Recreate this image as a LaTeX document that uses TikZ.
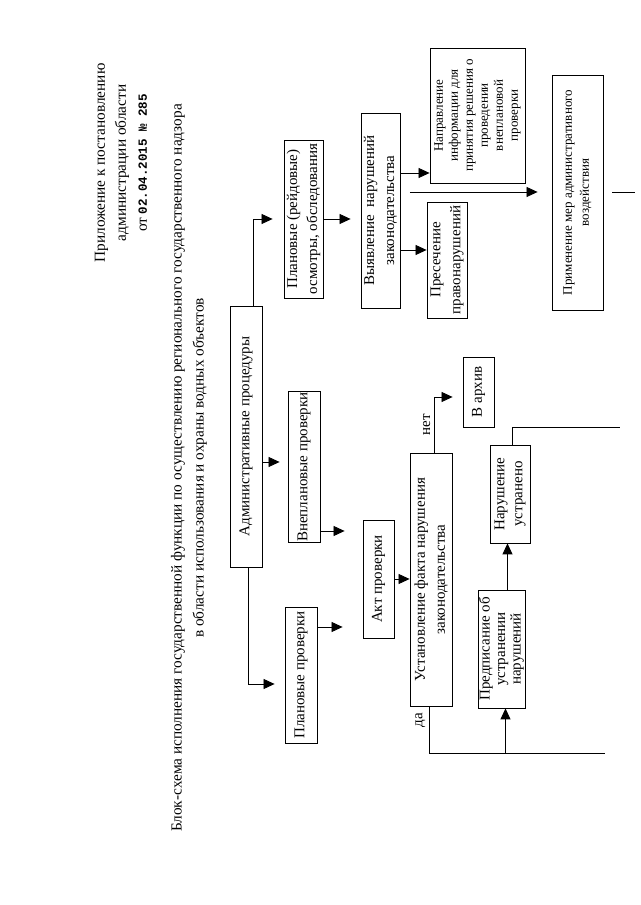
\documentclass[tikz,border=0pt]{standalone}
\usepackage{fontspec}
\setmainfont{Liberation Serif}
\newfontfamily\datefont{Liberation Mono}
\usetikzlibrary{calc,arrows.meta}

\tikzset{
	blok/.style={draw, line width=.8pt, align=center, inner sep=1pt, font=\fontsize{15}{20}\selectfont},
	arr/.style={line width=.8pt, -{Triangle[length=11pt,width=10pt]}},
	ln/.style={line width=.8pt}
}

\begin{document}
\begin{tikzpicture}[x=1pt, y=1pt]
\begin{scope}[rotate=90, transform shape]
\path[use as bounding box] (0,0) rectangle (905,640);

% header and title
\node[align=center, font=\fontsize{15.3}{21}\selectfont] (prilozh) at (742,519) {Приложение к постановлению\\администрации области\\от {\datefont\bfseries\fontsize{12.5}{21}\selectfont 02.04.2015 № 285}};
\node[align=center, font=\fontsize{15.3}{22}\selectfont] (zagolovok) at (437,451) {Блок-схема исполнения государственной функции по осуществлению регионального государственного надзора\\в области использования и охраны водных объектов};

% boxes
\node[blok, minimum width=261, minimum height=32] (adm) at (468.5,394) {Административные процедуры};
\node[blok, minimum width=158, minimum height=39] (rejd) at (686,336.5) {Плановые (рейдовые)\\осмотры, обследования};
\node[blok, minimum width=146, minimum height=32] (vnepl) at (438,336) {Внеплановые проверки};
\node[blok, minimum width=136, minimum height=32] (plan) at (230,339) {Плановые проверки};
\node[blok, minimum width=118, minimum height=31] (akt) at (326,261.5) {Акт проверки};
\node[blok, minimum width=253, minimum height=42] (fakt) at (325.5,209) {Установление факта нарушения\\законодательства};
\node[blok, minimum width=70, minimum height=31] (arhiv) at (513,161.5) {В архив};
\node[blok, minimum width=118, minimum height=47, font=\fontsize{15}{15.5}\selectfont] (predp) at (256,138.5) {Предписание об\\устранении\\нарушений};
\node[blok, minimum width=98, minimum height=40, font=\fontsize{15}{18}\selectfont] (ustr) at (411,130) {Нарушение\\устранено};
\node[blok, minimum width=195, minimum height=39] (vyyav) at (694.5,259.5) {Выявление~~нарушений\\законодательства};
\node[blok, minimum width=135, minimum height=95, font=\fontsize{13}{15}\selectfont] (napr) at (789.5,162.5) {Направление\\информации для\\принятия решения о\\проведении\\внеплановой\\проверки};
\node[blok, minimum width=116, minimum height=40] (pres) at (645,193) {Пресечение\\правонарушений};
\node[blok, minimum width=235, minimum height=51, font=\fontsize{13}{17}\selectfont] (prim) at (712.5,62.5) {Применение мер административного\\воздействия};

\coordinate (daend) at (152,35);
\coordinate (ustrend) at (478,20);
\coordinate (primstart) at (713,230);
\coordinate (primend) at (712,5);

% connectors
\draw[arr, shorten >=11pt] ($(adm.east)+(0,-7)$) -| (rejd.north);
\draw[arr, shorten >=8pt] ($(vnepl.north |- adm.south)+(5,0)$) -- ($(vnepl.north)+(5,0)$);
\draw[arr, shorten >=10pt] ($(adm.west)+(0,-2)$) -| ($(plan.north)+(-9,0)$);
\draw[arr, shorten >=20pt] ($(plan.south)+(48,0)$) -- ($(plan.south |- akt.north)+(48,0)$);
\draw[arr, shorten >=18pt] ($(vnepl.south)+(-64,0)$) -- ($(vnepl.south |- akt.north)+(-64,0)$);
\draw[arr] (akt.south) -- (akt.south |- fakt.north);
\draw[arr, shorten >=10pt] ($(fakt.east)+(0,-3)$) -| node[pos=.25, above, font=\fontsize{15}{18}\selectfont] {нет} ($(arhiv.north)+(-5,0)$);
\draw[ln] ($(fakt.west)+(0,2)$) -| node[pos=.15, above, font=\fontsize{15}{18}\selectfont] {да} (daend);
\draw[arr] ($(daend |- predp.west)+(0,-4)$) -- ($(predp.west)+(0,-4)$);
\draw[arr] ($(predp.east)+(0,-6)$) -- ($(predp.east -| ustr.west)+(0,-6)$);
\draw[ln] ($(ustr.east)+(0,-2)$) -| (ustrend);
\draw[arr, shorten >=10pt] (rejd.south) -- (rejd.south |- vyyav.north);
\draw[arr] ($(vyyav.south)+(37.5,0)$) -- ($(vyyav.south |- napr.north)+(37.5,0)$);
\draw[arr] ($(vyyav.south)+(-39.5,0)$) -- ($(vyyav.south |- pres.north)+(-39.5,0)$);
\draw[arr, shorten >=14pt] (primstart) -- (primstart |- prim.north);
\draw[ln, shorten <=9pt] (prim.south) -- (prim.south |- primend);
\end{scope}
\end{tikzpicture}
\end{document}
